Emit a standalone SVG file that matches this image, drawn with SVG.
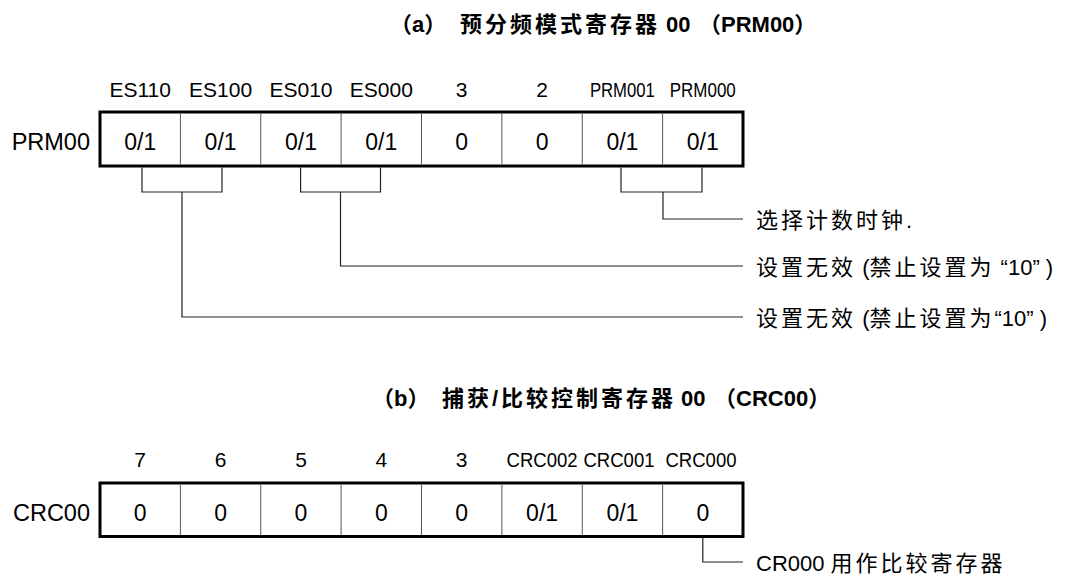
<svg xmlns="http://www.w3.org/2000/svg" width="1067" height="579" viewBox="0 0 1067 579">
<style>
text{font-family:"Liberation Sans",Arial,"Noto Sans CJK SC",sans-serif;fill:#000}
.ttl{font-weight:bold;font-size:22px}
.lbl{font-size:21px;text-anchor:middle}
.val{font-size:23px;text-anchor:middle}
.reg{font-size:23.5px;text-anchor:end}
.ann{font-size:22px}
.cj{letter-spacing:3px}
.frame{fill:none;stroke:#000;stroke-width:3}
.dv{stroke:#555;stroke-width:1}
.conn{fill:none;stroke:#222;stroke-width:1.2}
</style>
<rect width="1067" height="579" fill="#fff"/>

<g id="title-a">
<text class="ttl" y="31.5"><tspan x="390">（a）</tspan><tspan x="460" class="cj">预分频模式寄存器</tspan><tspan x="666">00</tspan><tspan x="699">（PRM00）</tspan></text>
</g>

<g id="register-prm00">
<text class="reg" x="90" y="149.5">PRM00</text>
<text class="lbl" x="140.2" y="96.7">ES110</text>
<text class="lbl" x="220.6" y="96.7">ES100</text>
<text class="lbl" x="301" y="96.7">ES010</text>
<text class="lbl" x="381.3" y="96.7">ES000</text>
<text class="lbl" x="461.7" y="96.7">3</text>
<text class="lbl" x="542.1" y="96.7">2</text>
<text class="lbl" x="622.4" y="96.7" textLength="65" lengthAdjust="spacingAndGlyphs">PRM001</text>
<text class="lbl" x="702.8" y="96.7" textLength="66" lengthAdjust="spacingAndGlyphs">PRM000</text>
<rect class="frame" x="100" y="112" width="643" height="54"/>
<path class="dv" d="M180.4,113.5V164.5M260.75,113.5V164.5M341.1,113.5V164.5M421.5,113.5V164.5M501.9,113.5V164.5M582.25,113.5V164.5M662.6,113.5V164.5"/>
<text class="val" x="140.2" y="149.5">0/1</text>
<text class="val" x="220.6" y="149.5">0/1</text>
<text class="val" x="301" y="149.5">0/1</text>
<text class="val" x="381.3" y="149.5">0/1</text>
<text class="val" x="461.7" y="149.5">0</text>
<text class="val" x="542.1" y="149.5">0</text>
<text class="val" x="622.4" y="149.5">0/1</text>
<text class="val" x="702.8" y="149.5">0/1</text>
</g>

<g id="note-a1">
<text class="ann" x="756" y="228"><tspan class="cj">选择计数时钟</tspan>.</text>
</g>
<g id="note-a2">
<text class="ann" x="756" y="275"><tspan class="cj">设置无效</tspan> (<tspan class="cj">禁止设置为</tspan> “10” )</text>
</g>
<g id="note-a3">
<text class="ann" x="756" y="326"><tspan class="cj">设置无效</tspan> (<tspan class="cj">禁止设置为</tspan>“10” )</text>
</g>

<g id="title-b">
<text class="ttl" y="406"><tspan x="372">（b）</tspan><tspan x="442" class="cj">捕获/比较控制寄存器</tspan><tspan x="681">00</tspan><tspan x="714">（CRC00）</tspan></text>
</g>

<g id="register-crc00">
<text class="reg" x="90" y="521">CRC00</text>
<text class="lbl" x="140.2" y="466.7">7</text>
<text class="lbl" x="220.6" y="466.7">6</text>
<text class="lbl" x="301" y="466.7">5</text>
<text class="lbl" x="381.3" y="466.7">4</text>
<text class="lbl" x="461.7" y="466.7">3</text>
<text class="lbl" x="542.1" y="466.7" textLength="71" lengthAdjust="spacingAndGlyphs">CRC002</text>
<text class="lbl" x="619" y="466.7" textLength="71" lengthAdjust="spacingAndGlyphs">CRC001</text>
<text class="lbl" x="701" y="466.7" textLength="71" lengthAdjust="spacingAndGlyphs">CRC000</text>
<rect class="frame" x="100" y="483" width="643" height="53.5"/>
<path class="dv" d="M180.4,484.5V535M260.75,484.5V535M341.1,484.5V535M421.5,484.5V535M501.9,484.5V535M582.25,484.5V535M662.6,484.5V535"/>
<text class="val" x="140.2" y="521">0</text>
<text class="val" x="220.6" y="521">0</text>
<text class="val" x="301" y="521">0</text>
<text class="val" x="381.3" y="521">0</text>
<text class="val" x="461.7" y="521">0</text>
<text class="val" x="542.1" y="521">0/1</text>
<text class="val" x="622.4" y="521">0/1</text>
<text class="val" x="702.8" y="521">0</text>
</g>

<g id="note-b1">
<text class="ann" x="756" y="571">CR000 <tspan class="cj">用作比较寄存器</tspan></text>
</g>

<g id="connectors">
<path class="conn" d="M142,167.5V192H222V167.5"/>
<path class="conn" d="M182,192V317H743"/>
<path class="conn" d="M300.6,167.5V192H380.5V167.5"/>
<path class="conn" d="M340.5,192V266H743"/>
<path class="conn" d="M621,167.5V192H702V167.5"/>
<path class="conn" d="M663,192V219H743"/>
<path class="conn" d="M702.8,538V562H743"/>
</g>
</svg>
